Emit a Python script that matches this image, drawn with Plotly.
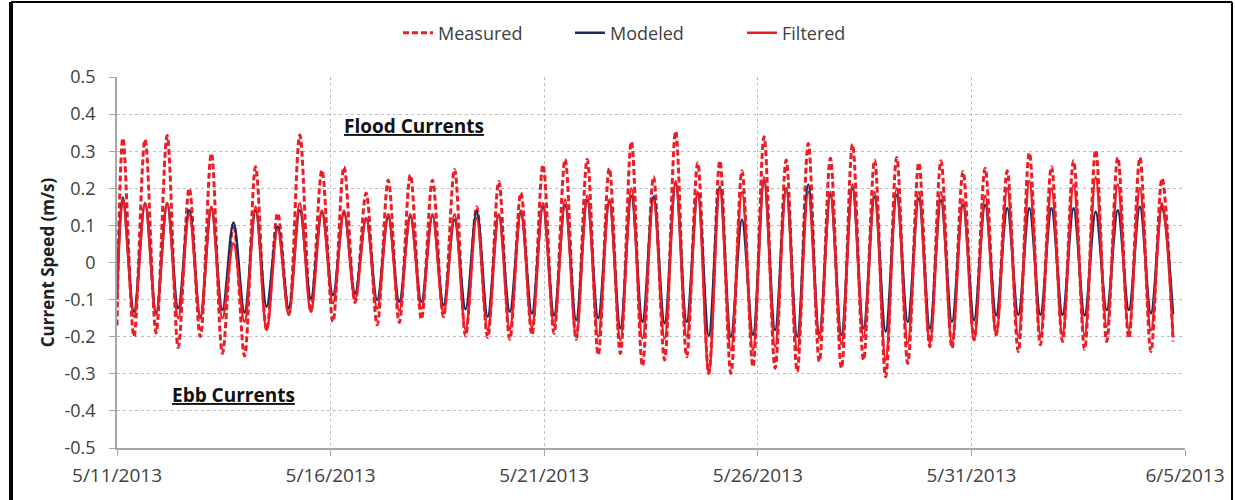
import pandas as pd
import plotly.graph_objects as go

# ---------------- data ----------------
START = "2013-05-11"
FIRST_PEAK_DAY = 0.139      # time of the first flood peak after START (days)
HALF_CYCLE_DAYS = 0.25875   # half of the semidiurnal tidal cycle (days)

start_values = {"Measured": -0.17, "Modeled": -0.08, "Filtered": -0.10}

measured_peaks = [0.335, 0.332, 0.342, 0.200, 0.294, 0.105, 0.258, 0.133, 0.344, 0.249,
                  0.258, 0.187, 0.222, 0.236, 0.222, 0.251, 0.150, 0.218, 0.188, 0.263,
                  0.278, 0.278, 0.254, 0.326, 0.231, 0.354, 0.269, 0.274, 0.247, 0.339,
                  0.276, 0.321, 0.281, 0.319, 0.276, 0.283, 0.269, 0.274, 0.245, 0.254,
                  0.247, 0.296, 0.258, 0.274, 0.303, 0.283, 0.283, 0.227]
measured_troughs = [-0.200, -0.190, -0.229, -0.200, -0.245, -0.252, -0.182, -0.140, -0.133, -0.160,
                    -0.108, -0.168, -0.162, -0.153, -0.146, -0.198, -0.202, -0.207, -0.195, -0.191,
                    -0.207, -0.249, -0.245, -0.279, -0.263, -0.254, -0.299, -0.299, -0.281, -0.285,
                    -0.294, -0.267, -0.285, -0.263, -0.308, -0.272, -0.227, -0.231, -0.209, -0.195,
                    -0.240, -0.222, -0.213, -0.234, -0.213, -0.204, -0.240, -0.213]

modeled_peaks = [0.175, 0.160, 0.160, 0.141, 0.146, 0.108, 0.141, 0.097, 0.141, 0.137,
                 0.133, 0.119, 0.122, 0.124, 0.126, 0.115, 0.137, 0.128, 0.133, 0.150,
                 0.155, 0.168, 0.164, 0.179, 0.177, 0.213, 0.187, 0.204, 0.115, 0.222,
                 0.200, 0.210, 0.182, 0.200, 0.177, 0.182, 0.173, 0.168, 0.155, 0.155,
                 0.146, 0.146, 0.146, 0.146, 0.137, 0.141, 0.150, 0.150]
modeled_troughs = [-0.133, -0.137, -0.123, -0.146, -0.128, -0.135, -0.119, -0.123, -0.097, -0.088,
                   -0.083, -0.101, -0.106, -0.106, -0.115, -0.126, -0.146, -0.133, -0.137, -0.142,
                   -0.155, -0.150, -0.177, -0.160, -0.164, -0.160, -0.198, -0.200, -0.195, -0.182,
                   -0.200, -0.191, -0.195, -0.177, -0.186, -0.160, -0.177, -0.160, -0.155, -0.142,
                   -0.141, -0.141, -0.141, -0.143, -0.128, -0.128, -0.137, -0.140]

filtered_peaks = [0.170, 0.160, 0.160, 0.130, 0.150, 0.052, 0.150, 0.090, 0.160, 0.140,
                  0.140, 0.120, 0.130, 0.130, 0.130, 0.130, 0.120, 0.130, 0.140, 0.160,
                  0.170, 0.180, 0.170, 0.200, 0.170, 0.220, 0.190, 0.200, 0.190, 0.230,
                  0.200, 0.190, 0.190, 0.210, 0.190, 0.200, 0.190, 0.190, 0.170, 0.180,
                  0.200, 0.220, 0.200, 0.210, 0.230, 0.210, 0.200, 0.160]
filtered_troughs = [-0.146, -0.140, -0.150, -0.150, -0.150, -0.160, -0.182, -0.140, -0.133, -0.110,
                    -0.100, -0.124, -0.130, -0.124, -0.137, -0.182, -0.182, -0.180, -0.176, -0.170,
                    -0.200, -0.200, -0.209, -0.205, -0.205, -0.200, -0.299, -0.236, -0.236, -0.227,
                    -0.236, -0.204, -0.220, -0.200, -0.263, -0.218, -0.218, -0.218, -0.209, -0.196,
                    -0.200, -0.196, -0.196, -0.196, -0.173, -0.183, -0.183, -0.200]

y_tick_vals = [0.5, 0.4, 0.3, 0.2, 0.1, 0, -0.1, -0.2, -0.3, -0.4, -0.5]
y_tick_text = ["0.5", "0.4", "0.3", "0.2", "0.1", "0", "-0.1", "-0.2", "-0.3", "-0.4", "-0.5"]
x_tick_vals = ["2013-05-11", "2013-05-16", "2013-05-21", "2013-05-26", "2013-05-31", "2013-06-05"]
x_tick_text = ["5/11/2013", "5/16/2013", "5/21/2013", "5/26/2013", "5/31/2013", "6/5/2013"]

# ---------------- build series ----------------
t0 = pd.Timestamp(START)
n_ext = 2 * len(measured_peaks)
times = [t0] + [t0 + pd.Timedelta(days=FIRST_PEAK_DAY + k * HALF_CYCLE_DAYS) for k in range(n_ext)]


def interleave(first, peaks, troughs):
    out = [first]
    for p, q in zip(peaks, troughs):
        out += [p, q]
    return out


measured = interleave(start_values["Measured"], measured_peaks, measured_troughs)
modeled = interleave(start_values["Modeled"], modeled_peaks, modeled_troughs)
filtered = interleave(start_values["Filtered"], filtered_peaks, filtered_troughs)

RED = "#EE1D25"
NAVY = "#1B2A5A"
FONT = "'Open Sans', Lato, Arial, sans-serif"
GRAY_TXT = "#404040"

fig = go.Figure()
fig.add_trace(go.Scatter(x=times, y=measured, name="Measured", mode="lines",
                         line=dict(color=RED, width=3, dash="6px,3px", shape="spline", smoothing=1)))
fig.add_trace(go.Scatter(x=times, y=modeled, name="Modeled", mode="lines",
                         line=dict(color=NAVY, width=2.5, shape="spline", smoothing=1)))
fig.add_trace(go.Scatter(x=times, y=filtered, name="Filtered", mode="lines",
                         line=dict(color=RED, width=2.5, shape="spline", smoothing=1)))

# plot area in pixels: x 117..1185, y 77..448
L, R, T, B = 117, 1185, 77, 448


def px(xpix):
    return (xpix - L) / (R - L)


def py(ypix):
    return (B - ypix) / (B - T)


fig.update_layout(
    width=1235, height=500,
    margin=dict(l=L, r=1235 - R, t=T, b=500 - B),
    paper_bgcolor="white", plot_bgcolor="white",
    font=dict(family=FONT, size=18, color=GRAY_TXT),
    showlegend=True,
    legend=dict(orientation="h", x=px(656), y=py(33), xanchor="center", yanchor="middle",
                font=dict(size=18, color=GRAY_TXT), bgcolor="rgba(0,0,0,0)",
                tracegroupgap=0, entrywidth=127, entrywidthmode="pixels"),
    xaxis=dict(type="date", range=["2013-05-11", "2013-06-05"],
               tickvals=x_tick_vals, ticktext=x_tick_text,
               showgrid=True, gridcolor="#BFBFBF", griddash="dot", gridwidth=1,
               showline=True, linecolor="#A6A6A6", linewidth=1.5,
               ticks="outside", ticklen=6, tickcolor="#A6A6A6",
               ticklabelstandoff=3, zeroline=False, automargin=False,
               tickfont=dict(size=19, color=GRAY_TXT)),
    yaxis=dict(range=[-0.5, 0.5], tickvals=y_tick_vals, ticktext=y_tick_text,
               showgrid=True, gridcolor="#BFBFBF", griddash="dot", gridwidth=1,
               showline=True, linecolor="#A6A6A6", linewidth=1.5,
               ticks="outside", ticklen=6, tickcolor="#A6A6A6",
               ticklabelstandoff=10, zeroline=False, automargin=False,
               tickfont=dict(size=18, color=GRAY_TXT),
               title=dict(text="<b>Current Speed (m/s)</b>", font=dict(size=17, color="#202020"),
                          standoff=6)),
)

fig.add_annotation(x="2013-05-16 06:30", y=0.368, xref="x", yref="y",
                   text="<b><u>Flood Currents</u></b>", showarrow=False,
                   xanchor="left", yanchor="middle", font=dict(size=19, color="#111111"))
fig.add_annotation(x="2013-05-12 05:50", y=-0.357, xref="x", yref="y",
                   text="<b><u>Ebb Currents</u></b>", showarrow=False,
                   xanchor="left", yanchor="middle", font=dict(size=19, color="#111111"))

# outer frame of the original figure
fig.add_shape(type="line", xref="paper", yref="paper", x0=px(11), x1=px(11), y0=py(2), y1=py(520),
              line=dict(color="black", width=4))
fig.add_shape(type="line", xref="paper", yref="paper", x0=px(1232), x1=px(1232), y0=py(2), y1=py(520),
              line=dict(color="black", width=2))
fig.add_shape(type="line", xref="paper", yref="paper", x0=px(11), x1=px(1232), y0=py(2), y1=py(2),
              line=dict(color="black", width=2))

fig.write_html("out.html", config={"displayModeBar": False},
               post_script="document.body.style.margin='0px';document.body.style.overflow='hidden';")
